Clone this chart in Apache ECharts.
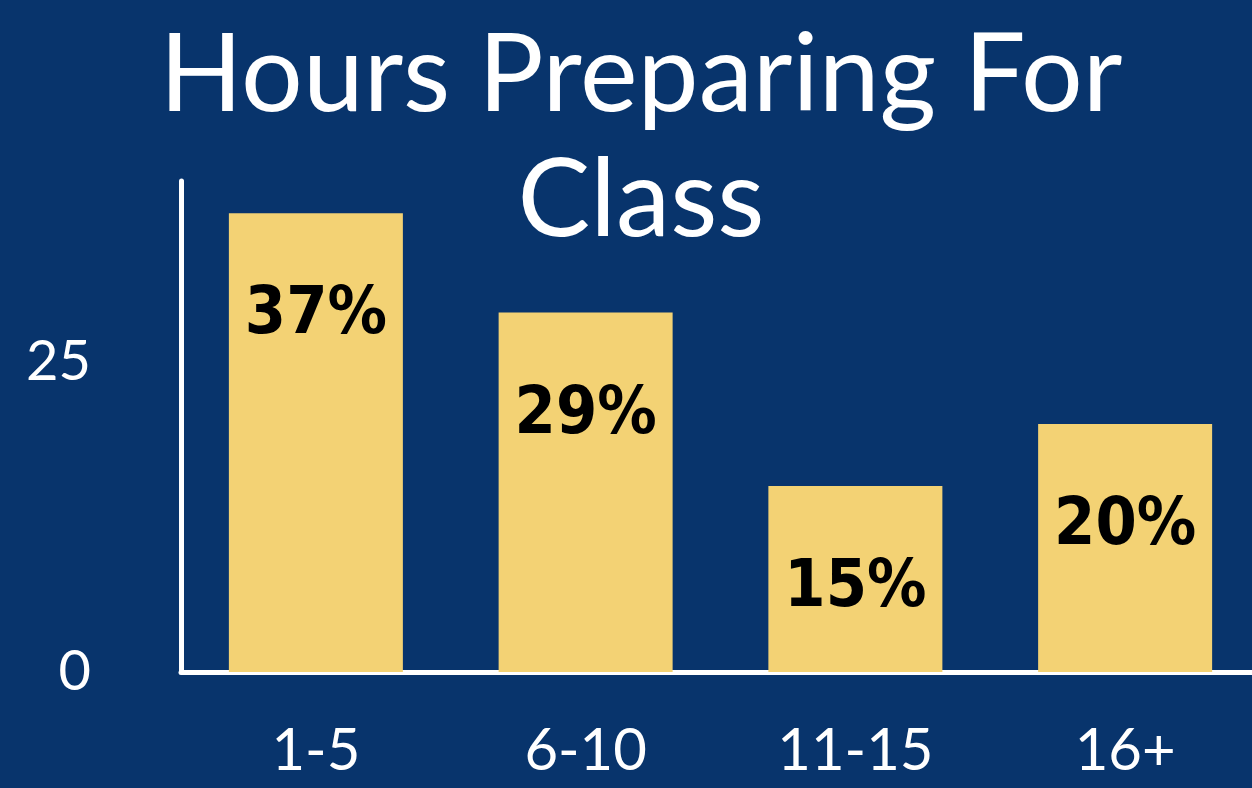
<!DOCTYPE html>
<html>
<head>
<meta charset="utf-8">
<script src="https://cdn.jsdelivr.net/npm/echarts@6/dist/echarts.min.js"></script>
<style>
  html, body { margin: 0; padding: 0; background: #08346c; }
  #main { width: 1252px; height: 788px; }
</style>
</head>
<body>
<div id="main"></div>
<script>
var categories = ['1-5', '6-10', '11-15', '16+'];
var values = [37, 29, 15, 20];
var yTickLabels = ['0', '25'];

var myChart = echarts.init(document.getElementById('main'));
var option = {
    backgroundColor: '#08346c',
    title: {
        text: 'Hours Preparing For\nClass',
        left: 636,
        top: 8,
        textAlign: 'center',
        textStyle: {
            color: '#ffffff',
            fontFamily: 'Lato',
            fontWeight: 'normal',
            fontSize: 109,
            lineHeight: 125
        }
    },
    grid: {
        left: 181,
        top: 181,
        width: 1079,
        bottom: 116,
        outerBoundsMode: 'none'
    },
    xAxis: {
        type: 'category',
        data: categories,
        axisLine: { lineStyle: { color: '#ffffff', width: 5 } },
        axisTick: { show: false },
        axisLabel: {
            color: '#ffffff',
            fontFamily: 'Lato',
            fontSize: 58,
            margin: 50
        }
    },
    yAxis: {
        type: 'value',
        min: 0,
        max: 39.6,
        interval: 25,
        splitLine: { show: false },
        axisLine: { show: true, lineStyle: { color: '#ffffff', width: 5 } },
        axisTick: { show: false },
        axisLabel: {
            color: '#ffffff',
            fontFamily: 'Lato',
            fontSize: 56,
            margin: 90,
            formatter: function (v) {
                var s = String(v);
                return yTickLabels.indexOf(s) >= 0 ? s : '';
            }
        }
    },
    series: [{
        type: 'bar',
        data: values,
        barWidth: 174,
        itemStyle: { color: '#f3d274' },
        label: {
            show: true,
            position: 'insideTop',
            distance: 70,
            formatter: '{c}%',
            color: '#000000',
            fontFamily: "'Liberation Sans Narrow', 'DejaVu Sans Condensed', sans-serif",
            fontWeight: 'bold',
            fontSize: 66
        }
    }]
};
myChart.setOption(option);
</script>
</body>
</html>
